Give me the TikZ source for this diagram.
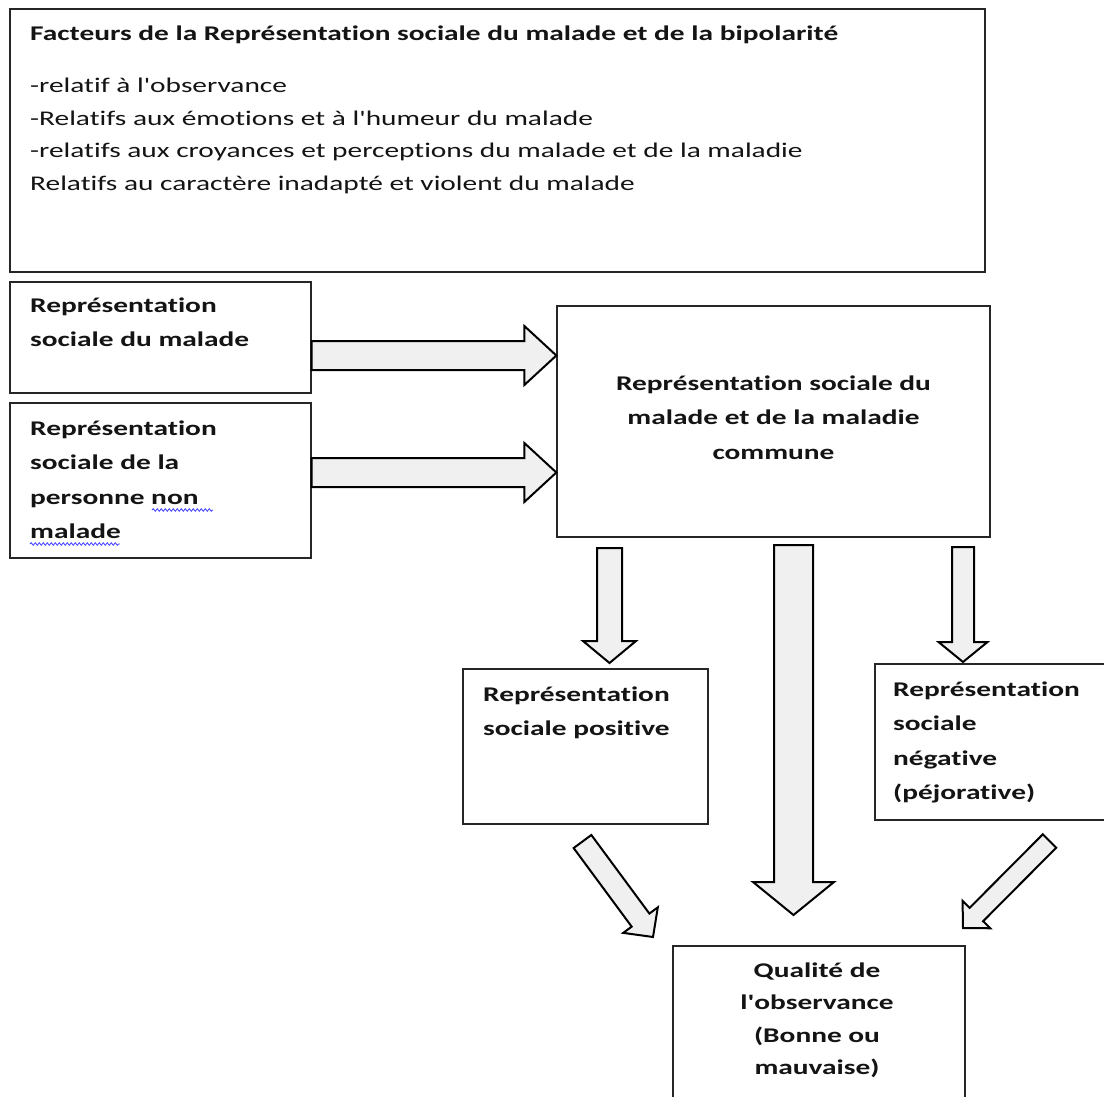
\documentclass[tikz,border=0pt]{standalone}
\usepackage{fontspec}
\usepackage{graphicx}
\setmainfont{Carlito}[Ligatures={NoCommon}]
\usetikzlibrary{calc,decorations.pathmorphing}
\newcommand{\wide}[1]{\scalebox{1.405}[1]{#1}}
\newcommand{\ap}{\textquotesingle}
\newcommand{\fl}{\rule{0pt}{20pt}}
\definecolor{arrfill}{HTML}{F0F0F0}
\tikzset{
  box/.style={draw=black!85, line width=1.3pt, inner sep=0pt, rectangle},
  txt/.style={inner sep=0pt, align=left, font=\fontsize{20.9}{34.4}\selectfont\bfseries, text=black!92},
  blockarr/.style={draw=black, line width=2pt, fill=arrfill, line join=miter},
  squiggle/.style={draw=blue!75, line width=0.8pt, decorate, decoration={snake, amplitude=1.3pt, segment length=4pt}}
}
\newcommand{\blockarrow}[5]{%
  \path ($(#2)!#5!(#1)$) coordinate (#2-base);
  \draw[blockarr] ($(#1)!#3!90:(#2)$) -- ($(#2-base)!#3!90:(#2)$) -- ($(#2-base)!#4!90:(#2)$) -- (#2) -- ($(#2-base)!#4!-90:(#2)$) -- ($(#2-base)!#3!-90:(#2)$) -- ($(#1)!#3!-90:(#2)$) -- cycle;}
\begin{document}
\begin{tikzpicture}[x=1pt,y=-1pt]
\clip (0,0) rectangle (1104,1097);
\fill[white] (0,0) rectangle (1104,1097);

% boxes
\node[box, minimum width=975pt, minimum height=263pt] (top) at (497.5,140.5) {};
\node[box, minimum width=301pt, minimum height=111pt] (A) at (160.5,337.5) {};
\node[box, minimum width=301pt, minimum height=155pt] (B) at (160.5,480.5) {};
\node[box, minimum width=433pt, minimum height=231pt] (C) at (773.5,421.5) {};
\node[box, minimum width=245pt, minimum height=155pt] (P) at (585.5,746.5) {};
\node[box, minimum width=240pt, minimum height=156pt] (N) at (995,742) {};
\node[box, minimum width=292pt, minimum height=169pt] (Q) at (819,1030.5) {};

% texts
\node[txt, anchor=north west] (title) at (30,20.5) {\fl\wide{Facteurs de la Représentation sociale du malade et de la bipolarité}};
\node[txt, font=\fontsize{20.9}{32.5}\selectfont, anchor=north west] (list) at (30,72.5)
  {\fl\wide{-relatif à l\ap observance}\\
   \wide{-Relatifs aux émotions et à l\ap humeur du malade}\\
   \wide{-relatifs aux croyances et perceptions du malade et de la maladie}\\
   \wide{Relatifs au caractère inadapté et violent du malade}};
\node[txt, anchor=north west] (tA) at (30,292.3) {\fl\wide{Représentation}\\\wide{sociale du malade}};
\node[txt, anchor=north west] (tB) at (30,415.3) {\fl\wide{Représentation}\\\wide{sociale de la}\\\wide{personne non}\\\wide{malade}};
\node[txt, align=center, anchor=north] (tC) at (773.5,370.3) {\fl\wide{Représentation sociale du}\\\wide{malade et de la maladie}\\\wide{commune}};
\node[txt, anchor=north west] (tP) at (483,681.3) {\fl\wide{Représentation}\\\wide{sociale positive}};
\node[txt, anchor=north west] (tN) at (893,676.3) {\fl\wide{Représentation}\\\wide{sociale}\\\wide{négative}\\\wide{(péjorative)}};
\node[txt, font=\fontsize{20.9}{32.4}\selectfont\bfseries, align=center, anchor=north] (tQ) at (817,957) {\fl\wide{Qualité de}\\\wide{l\ap observance}\\\wide{(Bonne ou}\\\wide{mauvaise)}};

% spell-check squiggles
\coordinate (sq1a) at (152,510); \coordinate (sq1b) at (213,510);
\coordinate (sq2a) at (30,544); \coordinate (sq2b) at (120,544);
\draw[squiggle] (sq1a) -- (sq1b);
\draw[squiggle] (sq2a) -- (sq2b);

% block arrows
\coordinate (h1s) at (A.east |- 0,355.5); \coordinate (h1t) at (C.west |- 0,355.5);
\coordinate (h2s) at (B.east |- 0,472.5); \coordinate (h2t) at (C.west |- 0,472.5);
\blockarrow{h1s}{h1t}{14.5pt}{29.5pt}{32pt}
\blockarrow{h2s}{h2t}{14.5pt}{29.5pt}{32pt}

\coordinate (d1s) at (609.5,548); \coordinate (d1t) at (609.5,663);
\coordinate (d2s) at (793.5,545); \coordinate (d2t) at (793.5,915);
\coordinate (d3s) at (963,547);   \coordinate (d3t) at (963,662);
\blockarrow{d1s}{d1t}{12.5pt}{26.5pt}{22pt}
\blockarrow{d2s}{d2t}{19.5pt}{40.5pt}{33pt}
\blockarrow{d3s}{d3t}{11pt}{24.5pt}{20pt}

\coordinate (g1s) at (582.5,841.5); \coordinate (g1t) at (653,937);
\coordinate (g2s) at (1049.5,841);  \coordinate (g2t) at (963,928);
\blockarrow{g1s}{g1t}{11pt}{21.5pt}{21pt}
\blockarrow{g2s}{g2t}{9.5pt}{19.5pt}{19pt}
\end{tikzpicture}
\end{document}
